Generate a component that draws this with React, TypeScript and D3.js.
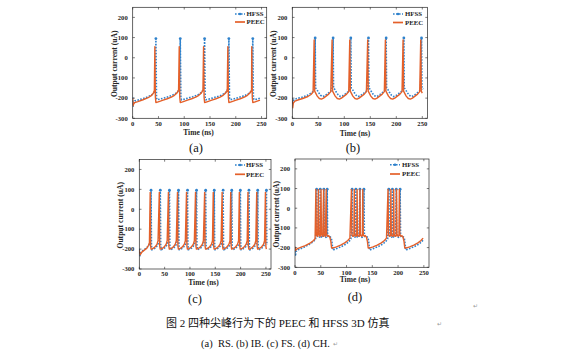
import React from "react";
import * as d3 from "d3";

type P = [number, number];

// ---------- shared axis data ----------
const xTicks = [0, 50, 100, 150, 200, 250];
const yTicks = [-300, -200, -100, 0, 100, 200];
const xDomain: [number, number] = [0, 260];
const yDomain: [number, number] = [-300, 250];
const seriesNames = ["HFSS", "PEEC"];
const panelLabels = ["(a)", "(b)", "(c)", "(d)"];
const xTitle = "Time (ns)";
const yTitle = "Output current (uA)";
const captionLine1 = "图 2 四种尖峰行为下的 PEEC 和 HFSS 3D 仿真";
const captionLine2 = "(a)  RS. (b) IB. (c) FS. (d) CH.";

// ---------- (a) RS ----------
const rsHfssSpikes = [45, 92.3, 139.5, 186.6, 233];
const rsHfssPeak = 95;
const rsHfssStart: P[] = [[0, -196], [0.8, -242], [2, -222], [4, -214], [10, -210], [20, -202], [30, -193], [38, -182], [42, -170], [44, -152]];
const rsHfssCycle: P[] = [[1.2, -200], [2.5, -208], [8, -205], [16, -199], [24, -193], [32, -186], [38, -178], [42.5, -168], [45.5, -152]];
const rsPeecSpikes = [43, 90.3, 137.5, 184.6, 231];
const rsPeecPeak = 55;
const rsPeecStart: P[] = [[0, -200], [0.8, -238], [2, -228], [4, -222], [10, -217], [20, -208], [30, -198], [36, -188], [40, -176], [42, -162]];
const rsPeecCycle: P[] = [[1, -195], [2, -222], [8, -217], [16, -210], [24, -203], [32, -195], [38, -186], [43, -174], [46, -160]];
const rsEnd = 252;

// ---------- (b) IB ----------
const ibHfssSpikes = [44, 78.5, 112.5, 146.5, 180.5, 214.5, 248.5];
const ibHfssPeak = 98;
const ibHfssStart: P[] = [[0, -198], [0.8, -228], [2, -212], [5, -205], [12, -200], [20, -195], [30, -185], [38, -172], [42, -162]];
const ibHfssCycle: P[] = [[0.8, -150], [3, -156], [6, -170], [10, -185], [14, -192], [18, -189], [23, -180], [28, -170], [32, -160]];
const ibPeecSpikes = [42, 76.5, 110.5, 145, 179, 213, 247];
const ibPeecPeak = 88;
const ibPeecStart: P[] = [[0, -205], [0.8, -248], [2, -225], [5, -215], [12, -208], [20, -202], [30, -192], [36, -182], [40, -170]];
const ibPeecCycle: P[] = [[1, -165], [3, -175], [6, -190], [10, -202], [14, -205], [18, -200], [23, -190], [28, -180], [32, -168]];
const ibEnd = 252;

// ---------- (c) FS ----------
const fsHfssSpikes = [23.2, 41.5, 59.5, 77.4, 95.2, 113, 131, 148, 165.5, 182.5, 199.5, 216.5, 233.8, 251];
const fsHfssPeak = 96;
const fsHfssStart: P[] = [[0, -198], [0.8, -240], [2, -222], [5, -212], [10, -202], [15, -192], [19, -180], [21.5, -165]];
const fsHfssCycle: P[] = [[0.8, -180], [1.8, -203], [4, -201], [8, -195], [11, -187], [13.5, -177], [15.5, -160]];
const fsPeecSpikes = [21.5, 39.5, 57.5, 75.4, 93.2, 111, 129, 146, 163.5, 180.5, 197.5, 214.5, 231.8, 249];
const fsPeecPeak = 85;
const fsPeecStart: P[] = [[0, -205], [0.8, -225], [2, -228], [5, -215], [10, -205], [15, -195], [18, -182], [20, -168]];
const fsPeecCycle: P[] = [[0.8, -185], [1.8, -200], [4, -199], [8, -193], [11, -185], [13.5, -175], [15.5, -158]];
const fsEnd = 252;

// ---------- (d) CH ----------
const chHfssSpikes = [42, 49, 56, 62.5, 110.8, 118.2, 126, 133.8, 182, 189, 196.5, 204];
const chHfssPeak = 97;
const chHfssStart: P[] = [[0, -203], [0.8, -243], [2, -220], [5, -212], [12, -205], [20, -195], [30, -180], [36, -168], [40, -158]];
const chHfssCycle: P[] = [[0.8, -135], [2, -145], [4, -148], [6, -146], [8, -150], [9.5, -178], [11, -213], [14, -209], [20, -203], [28, -194], [36, -183], [42, -170], [46, -156]];
const chPeecSpikes = [40.5, 45.5, 50.5, 55.5, 60.5, 109.5, 115, 120.5, 126, 131.5, 180.5, 186, 191.5, 197, 202.5];
const chPeecPeak = 95;
const chPeecStart: P[] = [[0, -195], [0.8, -215], [2, -210], [5, -205], [12, -198], [20, -190], [30, -176], [36, -164], [39, -155]];
const chPeecCycle: P[] = [[0.8, -130], [2, -140], [3.5, -143], [4.8, -139], [7, -146], [9, -168], [10.5, -202], [14, -201], [20, -196], [28, -187], [36, -176], [42, -164], [46, -152]];
const chEnd = 250;

function buildTrace(start: P[], spikes: number[], cycle: P[], peak: number, end: number): P[] {
  const pts: P[] = start.filter((p) => p[0] < spikes[0]);
  spikes.forEach((s, i) => {
    const next = i + 1 < spikes.length ? spikes[i + 1] : Infinity;
    pts.push([s, peak]);
    cycle.forEach(([dt, v]) => {
      const t = s + dt;
      if (t < next - 0.2 && t <= end) pts.push([t, v]);
    });
  });
  return pts;
}

const BLUE = "#2f82cc";
const ORANGE = "#e4602a";
const AX = "#262626";
const SERIF = "'Liberation Serif', 'Times New Roman', serif";

const layouts = [
  { x0: 132.7, x1: 266.7, y0: 7.3, y1: 118.3, tickY: 124, titleX: 198.5, titleY: 132.5, leg: { lx: 235, tx: 246.5, r1: 14, r2: 22 }, lab: { x: 196, y: 152 } },
  { x0: 292.3, x1: 427.5, y0: 7.3, y1: 118.3, tickY: 123.5, titleX: 355, titleY: 133, leg: { lx: 393, tx: 405, r1: 14, r2: 22.5 }, lab: { x: 353, y: 152 } },
  { x0: 139.3, x1: 271, y0: 159.5, y1: 269, tickY: 273.2, titleX: 203.5, titleY: 282, leg: { lx: 235, tx: 246, r1: 165, r2: 174.3 }, lab: { x: 195, y: 303 } },
  { x0: 295, x1: 429, y0: 159, y1: 267.3, tickY: 272.7, titleX: 355, titleY: 279.5, leg: { lx: 390, tx: 402, r1: 164.7, r2: 174 }, lab: { x: 355, y: 301 } },
];

const panelsData = [
  { hfssSpikes: rsHfssSpikes, hfssPeak: rsHfssPeak, hfss: buildTrace(rsHfssStart, rsHfssSpikes, rsHfssCycle, rsHfssPeak, rsEnd), peec: buildTrace(rsPeecStart, rsPeecSpikes, rsPeecCycle, rsPeecPeak, rsEnd) },
  { hfssSpikes: ibHfssSpikes, hfssPeak: ibHfssPeak, hfss: buildTrace(ibHfssStart, ibHfssSpikes, ibHfssCycle, ibHfssPeak, ibEnd), peec: buildTrace(ibPeecStart, ibPeecSpikes, ibPeecCycle, ibPeecPeak, ibEnd) },
  { hfssSpikes: fsHfssSpikes, hfssPeak: fsHfssPeak, hfss: buildTrace(fsHfssStart, fsHfssSpikes, fsHfssCycle, fsHfssPeak, fsEnd), peec: buildTrace(fsPeecStart, fsPeecSpikes, fsPeecCycle, fsPeecPeak, fsEnd) },
  { hfssSpikes: chHfssSpikes, hfssPeak: chHfssPeak, hfss: buildTrace(chHfssStart, chHfssSpikes, chHfssCycle, chHfssPeak, chEnd), peec: buildTrace(chPeecStart, chPeecSpikes, chPeecCycle, chPeecPeak, chEnd) },
];

function Panel({ idx }: { idx: number }) {
  const L = layouts[idx];
  const D = panelsData[idx];
  const x = d3.scaleLinear().domain(xDomain).range([L.x0, L.x1]);
  const y = d3.scaleLinear().domain(yDomain).range([L.y1, L.y0]);
  const line = d3.line<P>().x((d) => x(d[0])).y((d) => y(d[1]));
  const clipId = `clip${idx}`;
  const tk = 2.2;
  return (
    <g>
      <clipPath id={clipId}>
        <rect x={L.x0} y={L.y0} width={L.x1 - L.x0} height={L.y1 - L.y0} />
      </clipPath>
      <g clipPath={`url(#${clipId})`}>
        <path d={line(D.hfss) || ""} fill="none" stroke={BLUE} strokeWidth={1.6} strokeDasharray="1.6 1.4" />
        {D.hfssSpikes.map((s, i) => (
          <circle key={i} cx={x(s)} cy={y(D.hfssPeak)} r={1.4} fill={BLUE} />
        ))}
        <path d={line(D.peec) || ""} fill="none" stroke={ORANGE} strokeWidth={1.4} strokeLinejoin="round" />
      </g>
      <rect x={L.x0} y={L.y0} width={L.x1 - L.x0} height={L.y1 - L.y0} fill="none" stroke={AX} strokeWidth={0.7} />
      {xTicks.map((t) => (
        <g key={"x" + t}>
          <line x1={x(t)} x2={x(t)} y1={L.y1} y2={L.y1 - tk} stroke={AX} strokeWidth={0.6} />
          <line x1={x(t)} x2={x(t)} y1={L.y0} y2={L.y0 + tk} stroke={AX} strokeWidth={0.6} />
          <text x={x(t)} y={L.tickY} dy="0.35em" textAnchor="middle" fontFamily={SERIF} fontWeight="bold" fontSize={6.6} fill={AX}>{t}</text>
        </g>
      ))}
      {yTicks.map((t) => (
        <g key={"y" + t}>
          <line x1={L.x0} x2={L.x0 + tk} y1={y(t)} y2={y(t)} stroke={AX} strokeWidth={0.6} />
          <line x1={L.x1} x2={L.x1 - tk} y1={y(t)} y2={y(t)} stroke={AX} strokeWidth={0.6} />
          <text x={L.x0 - 5} y={y(t)} dy="0.35em" textAnchor="end" fontFamily={SERIF} fontWeight="bold" fontSize={6.6} fill={AX}>{t}</text>
        </g>
      ))}
      <text x={L.titleX} y={L.titleY} dy="0.35em" textAnchor="middle" fontFamily={SERIF} fontWeight="bold" fontSize={7.5} fill={AX}>{xTitle}</text>
      <text transform={`translate(${L.x0 - 18.5},${(L.y0 + L.y1) / 2 + 1}) rotate(-90)`} dy="0.35em" textAnchor="middle" fontFamily={SERIF} fontWeight="bold" fontSize={7.6} fill={AX}>{yTitle}</text>
      {/* legend */}
      <line x1={L.leg.lx} x2={L.leg.lx + 10} y1={L.leg.r1} y2={L.leg.r1} stroke={BLUE} strokeWidth={1.5} strokeDasharray="1.6 1.4" />
      <circle cx={L.leg.lx + 5} cy={L.leg.r1} r={1.3} fill={BLUE} />
      <text x={L.leg.tx} y={L.leg.r1} dy="0.35em" fontFamily={SERIF} fontWeight="bold" fontSize={6.8} fill={AX}>{seriesNames[0]}</text>
      <line x1={L.leg.lx} x2={L.leg.lx + 10} y1={L.leg.r2} y2={L.leg.r2} stroke={ORANGE} strokeWidth={1.7} />
      <text x={L.leg.tx} y={L.leg.r2} dy="0.35em" fontFamily={SERIF} fontWeight="bold" fontSize={6.8} fill={AX}>{seriesNames[1]}</text>
      <text x={L.lab.x} y={L.lab.y} textAnchor="middle" fontFamily={SERIF} fontSize={12.5} fill="#111">{panelLabels[idx]}</text>
    </g>
  );
}

export default function App() {
  return (
    <svg width={569} height={355} viewBox="0 0 569 355" style={{ position: "absolute", left: 0, top: 0, display: "block", background: "#fff" }}>
      <rect x={0} y={0} width={569} height={355} fill="#fff" />
      {[0, 1, 2, 3].map((i) => (
        <Panel key={i} idx={i} />
      ))}
      <text x={166} y={327} fontFamily={`${SERIF}, 'Noto Sans CJK SC'`} fontSize={11} fill="#111">{captionLine1}</text>
      <text x={201} y={347} fontFamily={`${SERIF}, 'Noto Sans CJK SC'`} fontSize={10.5} fill="#111" style={{ whiteSpace: "pre" }}>{captionLine2}</text>
      <text x={437} y={326} fontFamily="'DejaVu Sans'" fontSize={6} fill="#999">↵</text>
      <text x={333} y={346} fontFamily="'DejaVu Sans'" fontSize={6} fill="#999">↵</text>
      <text x={473} y={308} fontFamily="'DejaVu Sans'" fontSize={6} fill="#999">↵</text>
    </svg>
  );
}
